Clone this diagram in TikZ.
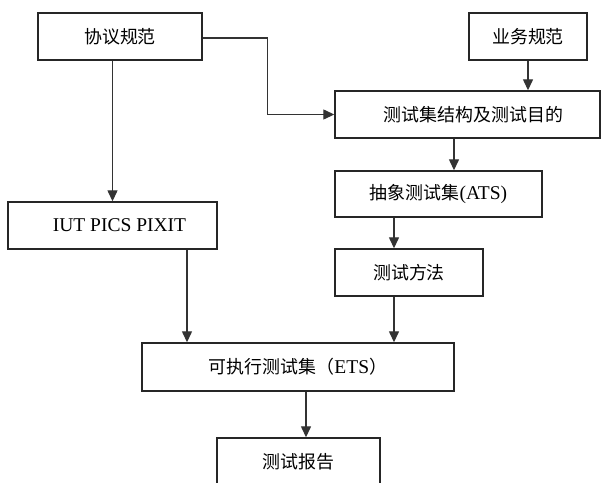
\documentclass[tikz,border=0pt]{standalone}
\usepackage{fontspec}
\setmainfont{Liberation Serif}
\newfontfamily\cjk[Scale=0.92]{Noto Sans CJK SC}
\usepackage{tikz}
\usetikzlibrary{arrows.meta, positioning}

\begin{document}
\begin{tikzpicture}[x=1pt, y=-1pt,
    box/.style={rectangle, draw=black!85, line width=1.4pt, fill=white, inner sep=0pt, minimum height=47pt, font=\fontsize{19.5}{22}\selectfont},
    flow/.style={draw=black!80, line width=1.3pt, -{Triangle[length=11pt, width=10pt]}},
    link/.style={draw=black!80, line width=1.3pt}
]
\useasboundingbox (0,0) rectangle (601,482);

% Left and right inputs
\node[box, minimum width=164pt] (spec) at (120, 36.5) {\cjk 协议规范};
\node[box, minimum width=118pt] (biz) at (528, 36.5) {\cjk 业务规范};

% Right column
\node[box, minimum width=265pt] (suite) at (467.5, 114.5) {\hspace{12pt}\cjk 测试集结构及测试目的};
\node[box, minimum width=207pt, minimum height=46pt] (ats) at (438.5, 194) {{\cjk 抽象测试集}(ATS)};
\node[box, minimum width=148pt] (method) at (409, 272.5) {\cjk 测试方法};

% Left column
\node[box, minimum width=209pt] (iut) at (112.5, 225.5) {\hspace{14pt}IUT PICS PIXIT};

% Bottom
\node[box, minimum width=312pt, minimum height=48pt] (ets) at (298, 367) {{\cjk 可执行测试集（}ETS{\cjk ）}};
\node[box, minimum width=163pt] (report) at (298.5, 461.5) {\cjk 测试报告};

% Column positions of the vertical connectors
\coordinate (colL) at (187, 0);
\coordinate (colR) at (394, 0);
\coordinate (colS) at (454, 0);
\coordinate (colE) at (306, 0);

% Connectors
\draw[flow] ([yshift=-1.5pt]spec.east) -- ++(65, 0) |- (suite.west);
\draw[flow] (spec.south -| iut.north) -- (iut.north);
\draw[flow] (biz.south) -- (biz.south |- suite.north);
\draw[flow] (suite.south -| colS) -- (ats.north -| colS);
\draw[flow] (ats.south -| colR) -- (method.north -| colR);
\draw[flow] (method.south -| colR) -- (ets.north -| colR);
\draw[flow] (iut.south -| colL) -- (ets.north -| colL);
\draw[flow] (ets.south -| colE) -- (report.north -| colE);
\end{tikzpicture}
\end{document}
